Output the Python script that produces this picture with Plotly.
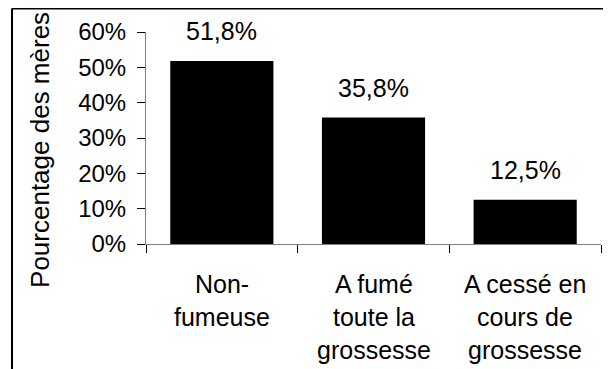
import plotly.graph_objects as go

categories = ["Non-fumeuse", "A fumé toute la grossesse", "A cessé en cours de grossesse"]
category_lines = [["Non-", "fumeuse"], ["A fumé", "toute la", "grossesse"], ["A cessé en", "cours de", "grossesse"]]
values = [51.8, 35.8, 12.5]
y_ticks = [0, 10, 20, 30, 40, 50, 60]
y_ticktext = [f"{t}%" for t in y_ticks]
y_title = "Pourcentage des mères"

OFF = 8  # page body margin offset
SW, SH = 611, 369
W, H = SW - OFF, SH - OFF
# desired screen positions of the plot area
SX0, SX1, SY0, SY1 = 146, 601, 31.5, 244.5
ML = SX0 - OFF
MR = W - (SX1 - OFF)
MT = SY0 - OFF
MB = H - (SY1 - OFF)
PW = W - ML - MR
PH = H - MT - MB

def px_x(sx):
    return (sx - OFF - ML) / PW

def px_y(sy):
    return (H - MB - (sy - OFF)) / PH

FONT = "Liberation Sans, Arial, sans-serif"

fig = go.Figure()
fig.add_trace(go.Bar(
    x=categories, y=values,
    marker=dict(color="black", line=dict(width=0)),
    hoverinfo="skip",
))

annotations = []
for c, v in zip(categories, values):
    annotations.append(dict(
        x=c, y=v, xref="x", yref="y",
        text=f"{v:.1f}".replace(".", ",") + "%",
        showarrow=False, yanchor="middle", yshift=30,
        font=dict(family=FONT, size=25, color="black"),
    ))

line_spacing = 33
for c, lines in zip(categories, category_lines):
    for i, ln in enumerate(lines):
        annotations.append(dict(
            x=c, y=0, xref="x", yref="paper",
            text=ln, showarrow=False, yanchor="middle",
            yshift=-(40 + i * line_spacing),
            font=dict(family=FONT, size=25, color="black"),
        ))

annotations.append(dict(
    x=px_x(40), y=px_y(150), xref="paper", yref="paper",
    text=y_title, textangle=-90, showarrow=False,
    xanchor="center", yanchor="middle",
    font=dict(family=FONT, size=26, color="black"),
))

shapes = [
    dict(type="line", xref="paper", yref="paper",
         x0=px_x(12), y0=px_y(8), x1=px_x(SW + 20), y1=px_y(8),
         line=dict(color="black", width=2)),
    dict(type="line", xref="paper", yref="paper",
         x0=px_x(12), y0=px_y(8), x1=px_x(12), y1=px_y(SH + 20),
         line=dict(color="black", width=2)),
]

fig.update_layout(
    width=W, height=H,
    margin=dict(l=ML, r=MR, t=MT, b=MB, autoexpand=False),
    paper_bgcolor="white", plot_bgcolor="white",
    showlegend=False,
    bargap=0.32,
    font=dict(family=FONT, size=24, color="black"),
    annotations=annotations,
    shapes=shapes,
    xaxis=dict(
        showticklabels=False,
        showline=True, linecolor="#808080", linewidth=1,
        ticks="outside", tickson="boundaries", ticklen=8, tickcolor="black",
        showgrid=False, zeroline=False,
    ),
    yaxis=dict(
        range=[0, 60], tickmode="array", tickvals=y_ticks, ticktext=y_ticktext,
        showline=True, linecolor="#808080", linewidth=1,
        ticks="outside", ticklen=8, tickcolor="black",
        ticklabelstandoff=6,
        showgrid=False, zeroline=False,
        tickfont=dict(family=FONT, size=24, color="black"),
    ),
)

fig.write_html("out.html", post_script="document.body.style.overflow='hidden';")
